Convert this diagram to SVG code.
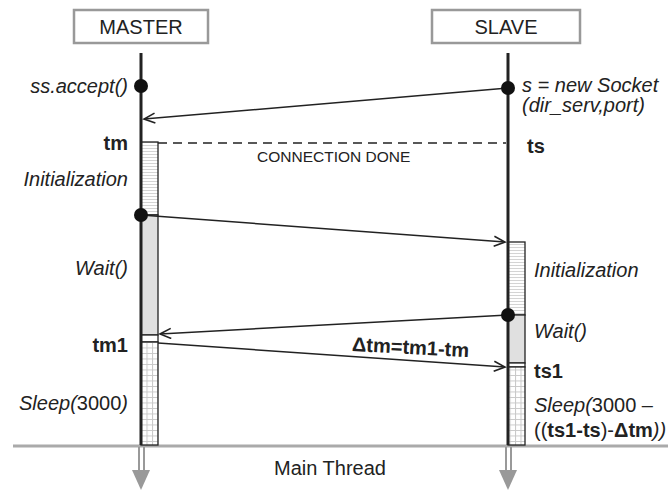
<svg xmlns="http://www.w3.org/2000/svg" width="668" height="492" viewBox="0 0 668 492">
<style>
text{font-family:"Liberation Sans",Arial,sans-serif;font-size:20px;fill:#222}
.it{font-style:italic}
.b{font-weight:bold}
.r{text-anchor:end}
.box{fill:#fff;stroke:#999;stroke-width:2.5}
.life{stroke:#222;stroke-width:3}
.act{stroke:#222;stroke-width:1.3}
.msg{stroke:#222;stroke-width:1.5;fill:none}
.dot{fill:#111}
</style>
<defs>
<pattern id="hatch" patternUnits="userSpaceOnUse" width="20" height="3">
<rect width="20" height="3" fill="#fff"/>
<line x1="0" y1="1.5" x2="20" y2="1.5" stroke="#d4d4d4" stroke-width="1"/>
</pattern>
<pattern id="grid" patternUnits="userSpaceOnUse" width="5.5" height="5.5" x="141" y="342">
<rect width="5.5" height="5.5" fill="#fff"/>
<path d="M0 0.5H5.5M0.5 0V5.5" stroke="#c8c8c8" stroke-width="1"/>
</pattern>
<marker id="arr" markerWidth="14" markerHeight="12" refX="12" refY="6" orient="auto" markerUnits="userSpaceOnUse">
<path d="M1 1L12 6L1 11" fill="none" stroke="#222" stroke-width="1.6"/>
</marker>
</defs>

<g id="master">
<rect class="box" x="74" y="10" width="134" height="33"/>
<text x="141" y="34" text-anchor="middle">MASTER</text>
</g>
<g id="slave">
<rect class="box" x="432" y="10" width="148" height="33"/>
<text x="506" y="34" text-anchor="middle">SLAVE</text>
</g>

<g id="main-thread">
<line x1="13" y1="446" x2="668" y2="446" stroke="#aaa" stroke-width="3"/>
<path d="M139 447V472M144 447V472" stroke="#999" stroke-width="2"/>
<polygon points="132,470 150,470 141,490" fill="#999"/>
<path d="M506 447V472M511 447V472" stroke="#999" stroke-width="2"/>
<polygon points="499,470 517,470 508,490" fill="#999"/>
<text x="330" y="475" text-anchor="middle">Main Thread</text>
</g>

<g id="master-activation">
<rect class="act" x="141" y="142" width="17" height="73" fill="url(#hatch)"/>
<rect class="act" x="141" y="215" width="17" height="120" fill="#e0e0e0"/>
<rect class="act" x="141" y="335" width="17" height="7" fill="#fff"/>
<rect class="act" x="141" y="342" width="17" height="103" fill="url(#grid)"/>
</g>
<g id="slave-activation">
<rect class="act" x="508" y="242" width="17" height="73" fill="url(#hatch)"/>
<rect class="act" x="508" y="315" width="17" height="48" fill="#e0e0e0"/>
<rect class="act" x="508" y="363" width="17" height="4" fill="#fff"/>
<rect class="act" x="508" y="367" width="17" height="78" fill="url(#grid)"/>
</g>

<g id="lifelines">
<line class="life" x1="141" y1="53" x2="141" y2="445"/>
<line class="life" x1="508" y1="53" x2="508" y2="445"/>
</g>

<g id="connectors">
<line class="msg" x1="508" y1="88" x2="144" y2="119" marker-end="url(#arr)"/>
<line x1="158" y1="143" x2="506" y2="143" stroke="#222" stroke-width="1.5" stroke-dasharray="9,6"/>
<line class="msg" x1="141" y1="215" x2="505" y2="242" marker-end="url(#arr)"/>
<line class="msg" x1="508" y1="315" x2="160" y2="334" marker-end="url(#arr)"/>
<line class="msg" x1="158" y1="343" x2="505" y2="367" marker-end="url(#arr)"/>
</g>

<g id="dots">
<circle class="dot" cx="141" cy="86" r="7"/>
<circle class="dot" cx="508" cy="88" r="7"/>
<circle class="dot" cx="141" cy="215" r="7"/>
<circle class="dot" cx="508" cy="315" r="7"/>
</g>

<g id="labels">
<text class="it r" x="128" y="93">ss.accept()</text>
<text class="b r" x="128" y="150">tm</text>
<text class="it r" x="128" y="186">Initialization</text>
<text class="it r" x="128" y="275">Wait()</text>
<text class="b r" x="128" y="352">tm1</text>
<text class="r" x="128" y="410"><tspan class="it">Sleep(</tspan>3000<tspan class="it">)</tspan></text>
<text class="it" x="522" y="92">s = new Socket</text>
<text class="it" x="522" y="112">(dir_serv,port)</text>
<text class="b" x="527" y="153">ts</text>
<text x="257" y="162" style="font-size:15.5px">CONNECTION DONE</text>
<text class="it" x="534" y="277">Initialization</text>
<text class="it" x="534" y="338">Wait()</text>
<text class="b" x="534" y="378">ts1</text>
<text x="534" y="412"><tspan class="it">Sleep(</tspan>3000 –</text>
<text x="534" y="437">((<tspan class="b">ts1-ts</tspan>)-<tspan class="b">Δtm</tspan><tspan class="it">))</tspan></text>
<text class="b" x="352" y="354" transform="rotate(3 410 348)">Δtm=tm1-tm</text>
</g>
</svg>
